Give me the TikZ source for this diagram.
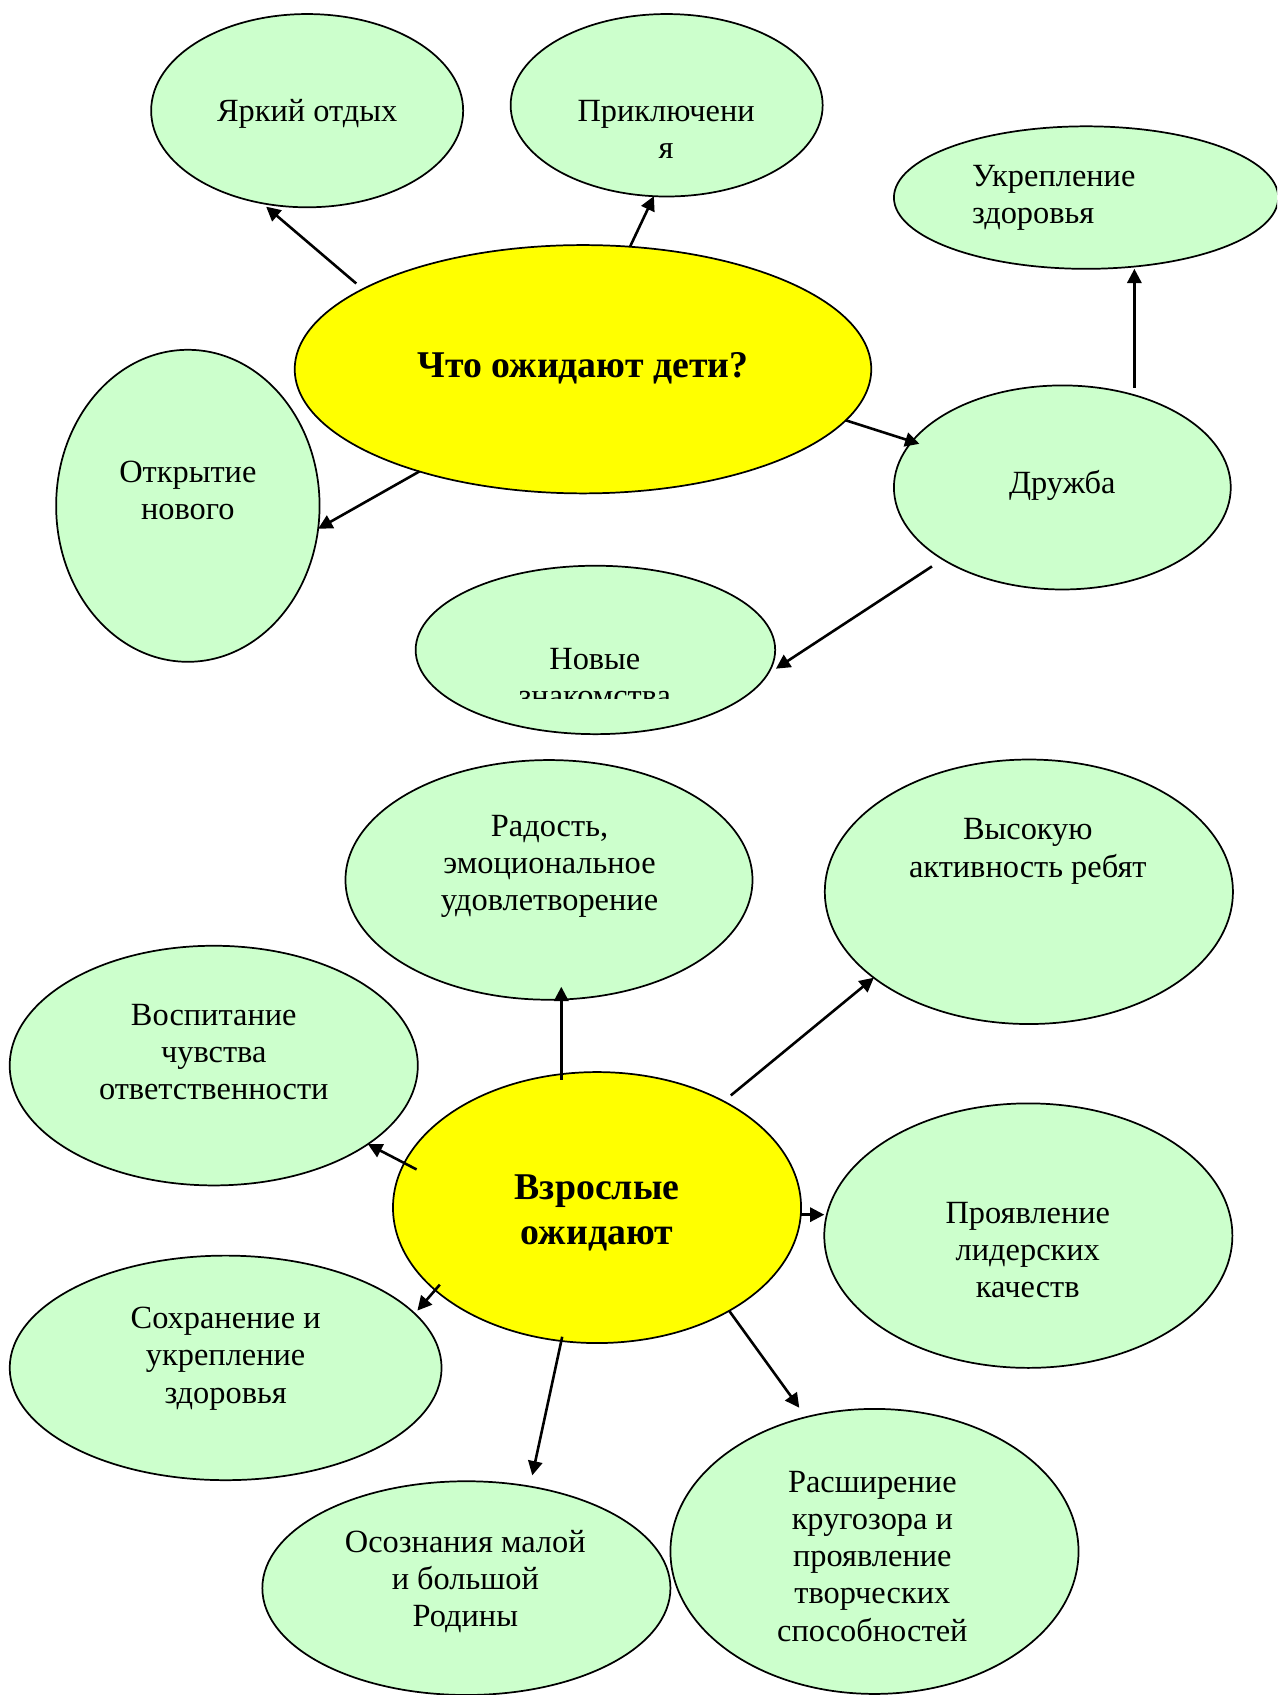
\documentclass[tikz,border=0pt]{standalone}
\usepackage{fontspec}
\setmainfont{Liberation Serif}
\usetikzlibrary{arrows.meta,shapes.geometric}
\definecolor{bubgreen}{HTML}{CCFFCC}
\definecolor{hubyellow}{HTML}{FFFF00}
\begin{document}
\begin{tikzpicture}[x=0.5pt,y=-0.5pt,
  bub/.style={ellipse,draw=black,line width=0.8pt,fill=bubgreen,inner sep=0pt,outer sep=0pt},
  hub/.style={bub,fill=hubyellow},
  txt/.style={align=center,inner sep=0pt,font=\fontsize{15}{17.25}\selectfont},
  htxt/.style={align=center,inner sep=0pt,font=\bfseries\fontsize{17.5}{20.5}\selectfont},
  arr/.style={-{Triangle[length=6.6pt,width=6.6pt]},line width=1.2pt}]
\useasboundingbox (0,0) rectangle (1183,1570);
\clip (0,0) rectangle (1183,1570);

% ellipses
\node[bub,minimum width=144.5pt,minimum height=89.5pt] (yark) at (284.5,102.5) {};
\node[bub,minimum width=144.5pt,minimum height=84.5pt] (prikl) at (617.5,97.5) {};
\node[bub,minimum width=178pt,minimum height=66pt] (ukr) at (1006,183) {};
\node[hub,minimum width=267pt,minimum height=115pt] (chto) at (540,342) {};
\node[bub,minimum width=122pt,minimum height=144.5pt] (otkr) at (174,468.5) {};
\node[bub,minimum width=156pt,minimum height=94.5pt] (druzh) at (984,451.5) {};
\node[bub,minimum width=166.5pt,minimum height=78pt] (novye) at (551.5,602) {};
\node[bub,minimum width=188.5pt,minimum height=111pt] (rad) at (508.5,815) {};
\node[bub,minimum width=189pt,minimum height=122.5pt] (vys) at (953,826) {};
\node[bub,minimum width=189pt,minimum height=111pt] (vosp) at (198,987) {};
\node[hub,minimum width=189pt,minimum height=125.5pt] (vzr) at (553,1118.5) {};
\node[bub,minimum width=189pt,minimum height=122.5pt] (proyav) at (952.5,1144.5) {};
\node[bub,minimum width=200pt,minimum height=104pt] (sokhr) at (209,1267) {};
\node[bub,minimum width=189pt,minimum height=99pt] (osozn) at (432,1471) {};
\node[bub,minimum width=189pt,minimum height=132pt] (rassh) at (810,1437) {};

% connectors (top)
\draw[arr,shorten <=4pt,shorten >=2.5pt] (chto.160) -- (yark.244);
\draw[arr] (chto.69) -- (prikl.262);
\draw[arr,shorten <=3.5pt] (druzh.52) -- (druzh.52 |- ukr.south);
\draw[arr,shorten >=-3.6pt] (chto.349) -- (druzh.163);
\draw[arr] (chto.212) -- (otkr.350);
\draw[arr,shorten <=6pt,shorten >=4.6pt] (druzh.211) -- (novye.352);

% connectors (bottom)
\draw[arr,shorten <=-2.5pt,shorten >=-6pt] (vzr.105) -- (vzr.105 |- rad.south);
\draw[arr,shorten <=4.3pt] (vzr.40) -- (vys.209);
\draw[arr] (vzr.358) -- (vzr.358 -| proyav.west);
\draw[arr,shorten >=5.4pt] (vzr.322) -- (rassh.117);
\draw[arr,shorten <=-2pt,shorten >=5.3pt] (vzr.255) -- (osozn.58);
\draw[arr,shorten <=-6.4pt] (vzr.167) -- (vosp.333);
\draw[arr,shorten <=-3.3pt,shorten >=1.9pt] (vzr.207) -- (sokhr.16);

% texts
\node[txt] (tyark) at (284.5,105) {Яркий отдых};
\node[txt] (tprikl) at (617,120) {Приключени\\я};
\node[txt,align=left,anchor=west] (tukr) at (900,183.5) {Укрепление\\здоровья};
\node[htxt] (tchto) at (540,341) {Что ожидают дети?};
\node[txt] (totkr) at (174,454.5) {Открытие\\нового};
\node[txt] (tdruzh) at (984,450) {Дружба};
\begin{scope}
\clip (380,520) rectangle (725,647);
\node[txt] (tnovye) at (551,627.5) {Новые\\знакомства};
\end{scope}
\node[txt] (trad) at (509,802.5) {Радость,\\эмоциональное\\удовлетворение};
\node[txt] (tvys) at (952,788.5) {Высокую\\активность ребят};
\node[txt] (tvosp) at (198,974.5) {Воспитание\\чувства\\ответственности};
\node[htxt] (tvzr) at (553,1123.5) {Взрослые\\ожидают};
\node[txt] (tproyav) at (952,1158) {Проявление\\лидерских\\качеств};
\node[txt] (tsokhr) at (209,1258.5) {Сохранение и\\укрепление\\здоровья};
\node[txt] (tosozn) at (431,1465) {Осознания малой\\и большой\\Родины};
\node[txt] (trassh) at (808,1441.5) {Расширение\\кругозора и\\проявление\\творческих\\способностей};
\end{tikzpicture}
\end{document}
